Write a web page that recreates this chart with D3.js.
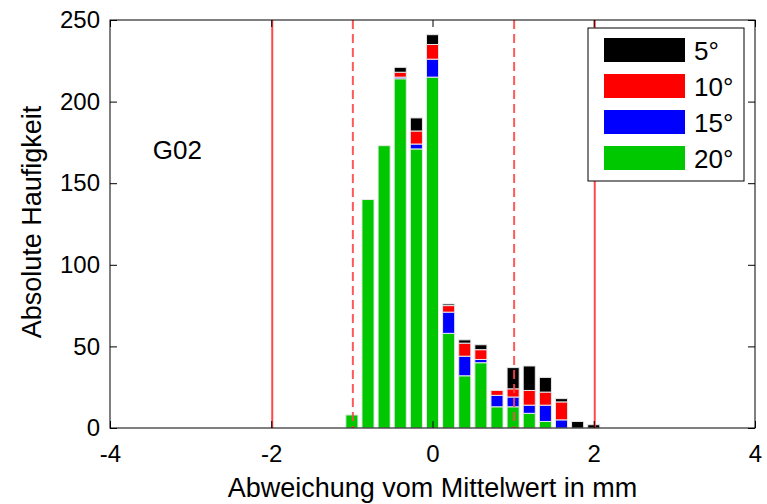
<!DOCTYPE html>
<html>
<head>
<meta charset="utf-8">
<script src="https://cdn.jsdelivr.net/npm/d3@7"></script>
<style>
  body { margin: 0; background: #fff; }
  text { font-family: "Liberation Sans", Arial, sans-serif; fill: #000; }
</style>
</head>
<body>
<div id="chart"></div>
<script>
// bin centres (mm) and counts per angle
const bins = [-1.0, -0.8, -0.6, -0.4, -0.2, 0.0, 0.2, 0.4, 0.6, 0.8, 1.0, 1.2, 1.4, 1.6, 1.8, 2.0];
const deg20 = [8, 140, 173, 214, 171, 215, 58, 32, 40, 13, 13, 9, 4, 0, 0, 0];
const deg15 = [0, 0, 0, 1, 3, 11, 13, 12, 2, 7, 6, 5, 10, 5, 0, 0];
const deg10 = [0, 0, 0, 3, 8, 9, 4, 8, 6, 3, 5, 9, 8, 11, 0, 0];
const deg5 = [0, 0, 0, 3, 8, 6, 1, 2, 3, 0, 13, 15, 9, 2, 4, 2];

const seriesNames = ["20°", "15°", "10°", "5°"];
const seriesColors = ["#00c800", "#0000ff", "#ff0000", "#000000"];
const legendOrder = ["5°", "10°", "15°", "20°"];

const xTicks = [-4, -2, 0, 2, 4];
const yTicks = [0, 50, 100, 150, 200, 250];
const solidLines = [-2, 2];
const dashedLines = [-1, 1];

const W = 767, H = 504;
const margin = {top: 20, right: 12, bottom: 76, left: 110};
const width = W - margin.left - margin.right;
const height = H - margin.top - margin.bottom;

const svg = d3.select("#chart").append("svg")
    .attr("width", W)
    .attr("height", H);

const g = svg.append("g")
    .attr("transform", `translate(${margin.left}, ${margin.top})`);

const x = d3.scaleLinear().domain([-4, 4]).range([0, width]);
const y = d3.scaleLinear().domain([0, 250]).range([height, 0]);

// stacked data
const table = bins.map((b, i) => ({
    bin: b, "20°": deg20[i], "15°": deg15[i], "10°": deg10[i], "5°": deg5[i]
}));
const stacked = d3.stack().keys(seriesNames)(table);
const color = d3.scaleOrdinal().domain(seriesNames).range(seriesColors);

const barW = x(0.15) - x(0);

g.selectAll("g.layer")
    .data(stacked)
    .enter().append("g")
    .attr("class", "layer")
    .attr("fill", d => color(d.key))
    .selectAll("rect")
    .data(d => d.filter(s => s[1] > s[0]))
    .enter().append("rect")
    .attr("x", d => x(d.data.bin) - barW / 2)
    .attr("y", d => y(d[1]))
    .attr("width", barW)
    .attr("height", d => y(d[0]) - y(d[1]))
    .attr("stroke", "#e8e8e8")
    .attr("stroke-width", 1);

// limit lines (solid = ±2 mm, dashed = ±1 mm)
g.selectAll("line.solid")
    .data(solidLines)
    .enter().append("line")
    .attr("class", "solid")
    .attr("x1", d => x(d) + 1).attr("x2", d => x(d) + 1)
    .attr("y1", 0).attr("y2", height)
    .attr("stroke", "#ff4848")
    .attr("stroke-width", 2);

g.selectAll("line.dashed")
    .data(dashedLines)
    .enter().append("line")
    .attr("class", "dashed")
    .attr("x1", d => x(d) + 1).attr("x2", d => x(d) + 1)
    .attr("y1", 0).attr("y2", height)
    .attr("stroke", "#ff4848")
    .attr("stroke-opacity", 0.9)
    .attr("stroke-width", 2)
    .attr("stroke-dasharray", "9,5");

// axes, ticks pointing inward on all four sides
const tickLen = 7;
const plain = d => String(d);
g.append("g")
    .attr("transform", `translate(0, ${height})`)
    .call(d3.axisBottom(x).tickValues(xTicks).tickFormat(plain).tickSize(-tickLen).tickPadding(17).tickSizeOuter(0))
    .call(a => a.select(".domain").remove())
    .selectAll("text").style("font-size", "24px");

g.append("g")
    .call(d3.axisTop(x).tickValues(xTicks).tickSize(-tickLen).tickFormat("").tickSizeOuter(0))
    .call(a => a.select(".domain").remove());

g.append("g")
    .call(d3.axisLeft(y).tickValues(yTicks).tickFormat(plain).tickSize(-tickLen).tickPadding(10).tickSizeOuter(0))
    .call(a => a.select(".domain").remove())
    .selectAll("text").style("font-size", "24px");

g.append("g")
    .attr("transform", `translate(${width}, 0)`)
    .call(d3.axisRight(y).tickValues(yTicks).tickSize(-tickLen).tickFormat("").tickSizeOuter(0))
    .call(a => a.select(".domain").remove());

g.append("rect")
    .attr("x", 0).attr("y", 0)
    .attr("width", width).attr("height", height)
    .attr("fill", "none")
    .attr("stroke", "#000")
    .attr("stroke-width", 1);

// axis labels
svg.append("text")
    .attr("x", margin.left + width / 2)
    .attr("y", 497)
    .attr("text-anchor", "middle")
    .style("font-size", "27px")
    .text("Abweichung vom Mittelwert in mm");

svg.append("text")
    .attr("transform", `translate(41, 222) rotate(-90)`)
    .attr("text-anchor", "middle")
    .style("font-size", "27px")
    .text("Absolute Haufigkeit");

// sample label
g.append("text")
    .attr("x", x(-3.47))
    .attr("y", y(165))
    .style("font-size", "26px")
    .text("G02");

// legend
const legend = svg.append("g")
    .attr("transform", "translate(588, 28)");

legend.append("rect")
    .attr("width", 156).attr("height", 153)
    .attr("fill", "#fff")
    .attr("stroke", "#000")
    .attr("stroke-width", 1);

const items = legend.selectAll("g.item")
    .data(legendOrder)
    .enter().append("g")
    .attr("class", "item")
    .attr("transform", (d, i) => `translate(0, ${10 + i * 36})`);

items.append("rect")
    .attr("x", 16).attr("width", 81).attr("height", 24)
    .attr("fill", d => color(d));

items.append("text")
    .attr("x", 106).attr("y", 22)
    .style("font-size", "26px")
    .text(d => d);
</script>
</body>
</html>
